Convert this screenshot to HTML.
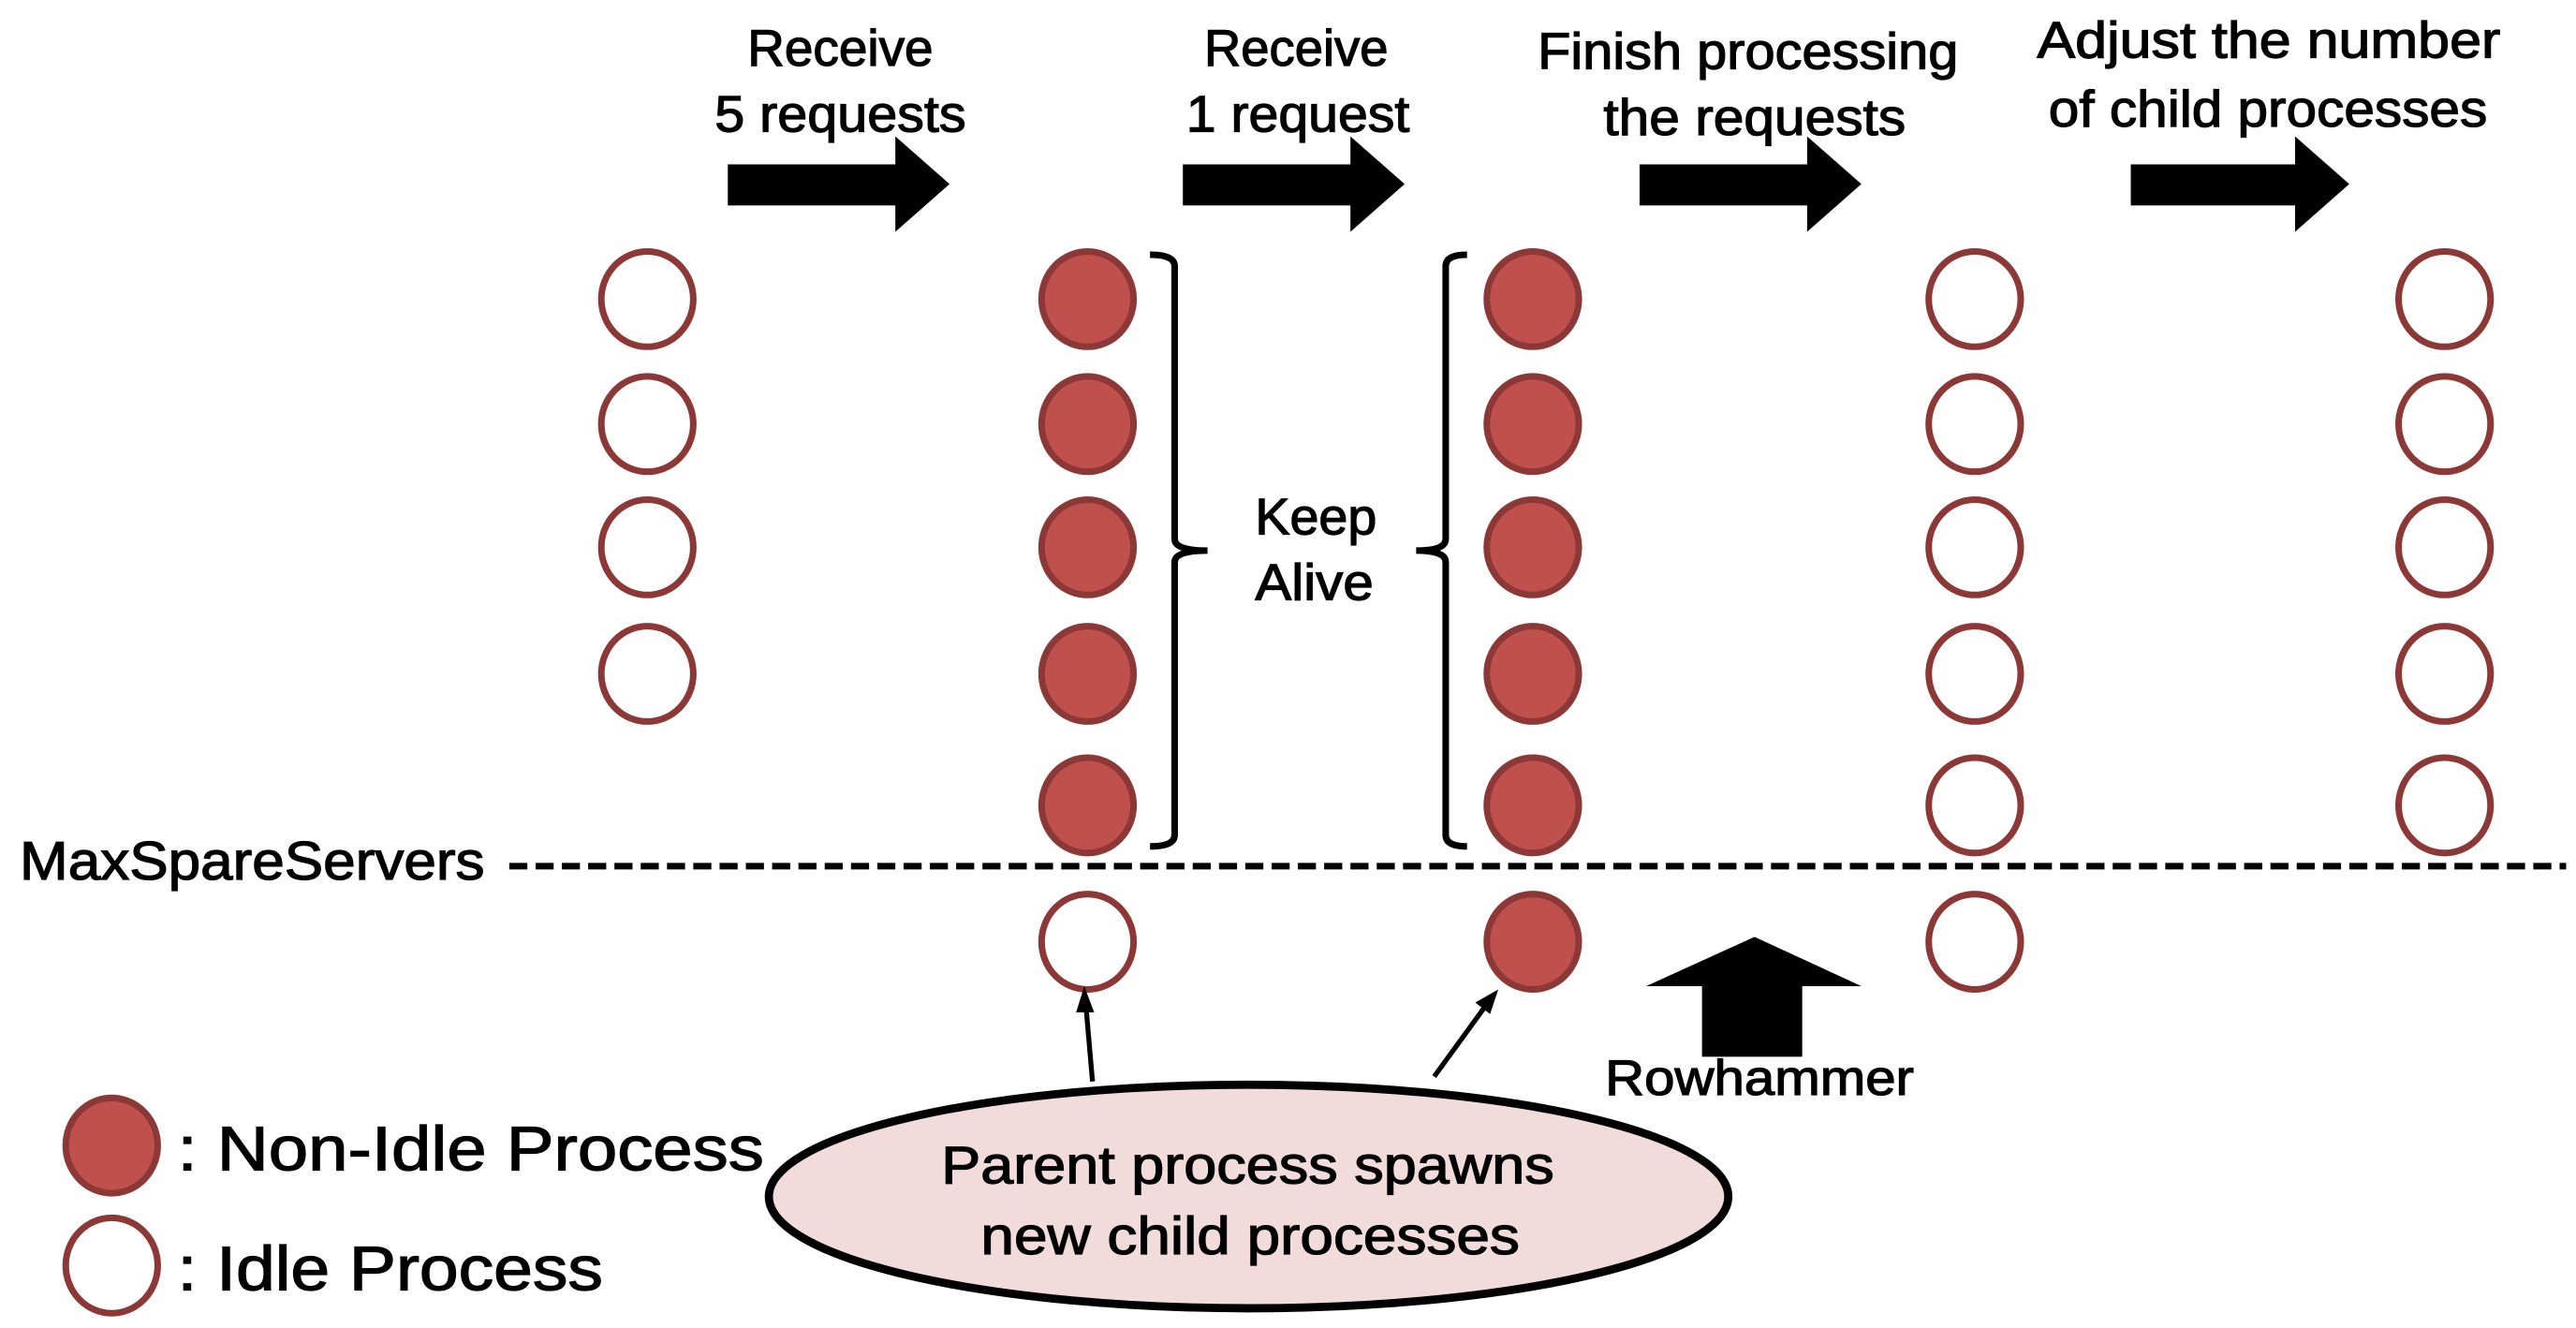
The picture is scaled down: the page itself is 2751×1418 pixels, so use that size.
<!DOCTYPE html>
<html><head><meta charset="utf-8"><style>html,body{margin:0;padding:0;background:#fff}svg{display:block}</style></head>
<body>
<svg width="2751" height="1418" viewBox="0 0 1568 808" preserveAspectRatio="none" xmlns="http://www.w3.org/2000/svg" font-family="Liberation Sans, sans-serif">
<defs>
<g id="f"><ellipse rx="28" ry="29" fill="#c0504d" stroke="#8c3836" stroke-width="4"/></g>
<g id="e"><ellipse rx="28" ry="29" fill="#fff" stroke="#8c3836" stroke-width="4"/></g>
</defs>
<g font-size="31" fill="#000" stroke="#000" stroke-width="0.7">
<text x="455" y="40" textLength="113" lengthAdjust="spacingAndGlyphs">Receive</text>
<text x="435" y="80" textLength="153" lengthAdjust="spacingAndGlyphs">5 requests</text>
<text x="733" y="40" textLength="112" lengthAdjust="spacingAndGlyphs">Receive</text>
<text x="722" y="80" textLength="136" lengthAdjust="spacingAndGlyphs">1 request</text>
<text x="936" y="42" textLength="256" lengthAdjust="spacingAndGlyphs">Finish processing</text>
<text x="976" y="82" textLength="184" lengthAdjust="spacingAndGlyphs">the requests</text>
<text x="1240" y="35" textLength="282" lengthAdjust="spacingAndGlyphs">Adjust the number</text>
<text x="1247" y="77" textLength="267" lengthAdjust="spacingAndGlyphs">of child processes</text>
<text x="764" y="325" textLength="74" lengthAdjust="spacingAndGlyphs">Keep</text>
<text x="764" y="365" textLength="72" lengthAdjust="spacingAndGlyphs">Alive</text>
<text x="12" y="535" font-size="33" textLength="283" lengthAdjust="spacingAndGlyphs">MaxSpareServers</text>
<text x="977" y="666" font-size="30" textLength="188" lengthAdjust="spacingAndGlyphs">Rowhammer</text>
<text x="573" y="720" font-size="32" textLength="373" lengthAdjust="spacingAndGlyphs">Parent process spawns</text>
<text x="597" y="763" font-size="32" textLength="328" lengthAdjust="spacingAndGlyphs">new child processes</text>
<text x="108" y="712" font-size="38" textLength="357" lengthAdjust="spacingAndGlyphs">: Non-Idle Process</text>
<text x="108" y="785" font-size="38" textLength="259" lengthAdjust="spacingAndGlyphs">: Idle Process</text>
</g>
<g fill="#000">
<polygon points="443,100 545,100 545,83 578,112 545,141 545,125 443,125"/>
<polygon points="720,100 822,100 822,83 855,112 822,141 822,125 720,125"/>
<polygon points="998,100 1100,100 1100,83 1133,112 1100,141 1100,125 998,125"/>
<polygon points="1297,100 1397,100 1397,83 1430,112 1397,141 1397,125 1297,125"/>
<polygon points="1068,570 1133,600 1097,600 1097,643 1036,643 1036,600 1002,600"/>
</g>
<line x1="310" y1="527" x2="1562" y2="527" stroke="#000" stroke-width="4" stroke-dasharray="11,5"/>
<path d="M700,155 Q715,155 715,162 L715,328 Q715,335 735,335 Q715,335 715,342 L715,508 Q715,515 700,515" fill="none" stroke="#000" stroke-width="4"/>
<path d="M893,155 Q880,155 880,162 L880,328 Q880,335 862,335 Q880,335 880,342 L880,508 Q880,515 893,515" fill="none" stroke="#000" stroke-width="4"/>
<use href="#e" x="394" y="182"/><use href="#e" x="394" y="258"/><use href="#e" x="394" y="333"/><use href="#e" x="394" y="410"/>
<use href="#f" x="662" y="182"/><use href="#f" x="662" y="258"/><use href="#f" x="662" y="333"/><use href="#f" x="662" y="410"/><use href="#f" x="662" y="490"/><use href="#e" x="662" y="573"/>
<use href="#f" x="933" y="182"/><use href="#f" x="933" y="258"/><use href="#f" x="933" y="333"/><use href="#f" x="933" y="410"/><use href="#f" x="933" y="490"/><use href="#f" x="933" y="573"/>
<use href="#e" x="1202" y="182"/><use href="#e" x="1202" y="258"/><use href="#e" x="1202" y="333"/><use href="#e" x="1202" y="410"/><use href="#e" x="1202" y="490"/><use href="#e" x="1202" y="573"/>
<use href="#e" x="1488" y="182"/><use href="#e" x="1488" y="258"/><use href="#e" x="1488" y="333"/><use href="#e" x="1488" y="410"/><use href="#e" x="1488" y="490"/>
<g stroke="#000" stroke-width="3" fill="#000">
<line x1="665" y1="658" x2="661" y2="612"/>
<polygon points="660,600 655,616 666,616" stroke="none"/>
<line x1="873" y1="655" x2="905" y2="611"/>
<polygon points="912,602 898,610 907,617" stroke="none"/>
</g>
<ellipse cx="760" cy="728" rx="292" ry="68" fill="#f2dcdb" stroke="#000" stroke-width="5"/>
<g font-size="32" fill="#000" stroke="#000" stroke-width="0.7">
<text x="573" y="720" textLength="373" lengthAdjust="spacingAndGlyphs">Parent process spawns</text>
<text x="597" y="763" textLength="328" lengthAdjust="spacingAndGlyphs">new child processes</text>
</g>
<use href="#f" x="68" y="697"/>
<use href="#e" x="68" y="770"/>
</svg>
</body></html>
